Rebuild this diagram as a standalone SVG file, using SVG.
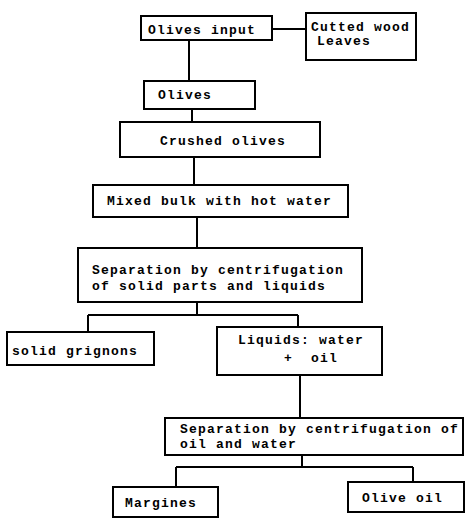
<svg xmlns="http://www.w3.org/2000/svg" width="467" height="518" viewBox="0 0 467 518">
<style>
.b{fill:#fff;stroke:#000;stroke-width:2}
.c{fill:none;stroke:#000;stroke-width:2}
text{font-family:"Liberation Mono","DejaVu Sans Mono",monospace;font-weight:bold;font-size:13px;letter-spacing:1.2px;fill:#000}
</style>
<rect width="467" height="518" fill="#fff"/>
<g id="connectors">
<path class="c" d="M272 29H306"/>
<path class="c" d="M189 40V81"/>
<path class="c" d="M192 109V122"/>
<path class="c" d="M194 157V185"/>
<path class="c" d="M197 217V248"/>
<path class="c" d="M197 302V315M88 315H298M88 315V332M298 315V327"/>
<path class="c" d="M300 375V418"/>
<path class="c" d="M302 455V467M176 467H413M176 467V487M413 467V482"/>
</g>
<g id="olives-input"><rect class="b" x="141" y="16" width="131" height="24"/><text x="148" y="34">Olives input</text></g>
<g id="cutted-wood"><rect class="b" x="306" y="13" width="110" height="47"/><text x="311" y="31">Cutted wood</text><text x="317" y="45">Leaves</text></g>
<g id="olives"><rect class="b" x="144" y="81" width="111" height="28"/><text x="158" y="99">Olives</text></g>
<g id="crushed"><rect class="b" x="120" y="122" width="200" height="35"/><text x="160" y="145">Crushed olives</text></g>
<g id="mixed"><rect class="b" x="93" y="185" width="255" height="32"/><text x="107" y="205">Mixed bulk with hot water</text></g>
<g id="sep1"><rect class="b" x="78" y="248" width="284" height="54"/><text x="92" y="274">Separation by centrifugation</text><text x="92" y="290">of solid parts and liquids</text></g>
<g id="solid"><rect class="b" x="7" y="332" width="147" height="33"/><text x="12" y="355">solid grignons</text></g>
<g id="liquids"><rect class="b" x="217" y="327" width="165" height="48"/><text x="238" y="344">Liquids: water</text><text x="284" y="362">+</text><text x="311" y="362">oil</text></g>
<g id="sep2"><rect class="b" x="165" y="418" width="298" height="37"/><text x="180" y="433">Separation by centrifugation of</text><text x="180" y="448">oil and water</text></g>
<g id="margines"><rect class="b" x="113" y="487" width="105" height="30"/><text x="125" y="507">Margines</text></g>
<g id="olive-oil"><rect class="b" x="348" y="482" width="116" height="30"/><text x="362" y="502">Olive oil</text></g>
</svg>
